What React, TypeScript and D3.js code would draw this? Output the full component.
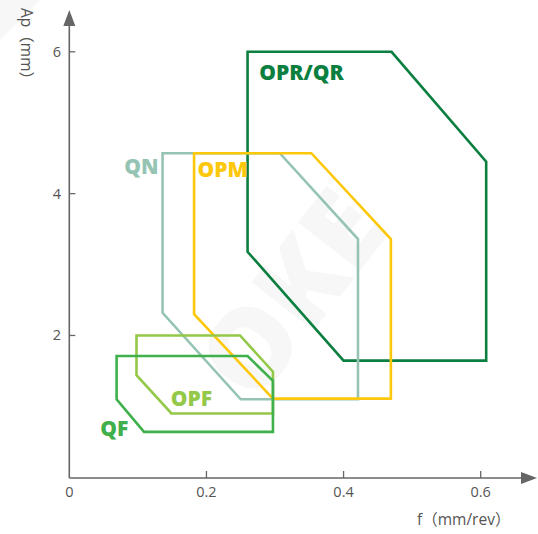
import React from "react";
import * as d3 from "d3";

const W = 538;
const H = 534;

const xTicks = [0, 0.2, 0.4, 0.6];
const xTickLabels = ["0", "0.2", "0.4", "0.6"];
const yTicks = [2, 4, 6];
const yTickLabels = ["2", "4", "6"];

const oprF = [0.26, 0.47, 0.608, 0.608, 0.40, 0.26];
const oprAp = [6.0, 6.0, 4.45, 1.645, 1.645, 3.18];
const qnF = [0.136, 0.307, 0.421, 0.421, 0.25, 0.136];
const qnAp = [4.57, 4.57, 3.36, 1.1, 1.1, 2.32];
const opmF = [0.182, 0.353, 0.469, 0.469, 0.297, 0.182];
const opmAp = [4.57, 4.57, 3.36, 1.11, 1.11, 2.3];
const opfF = [0.098, 0.249, 0.297, 0.297, 0.149, 0.098];
const opfAp = [2.0, 2.0, 1.49, 0.9, 0.9, 1.44];
const qfF = [0.069, 0.26, 0.297, 0.297, 0.109, 0.069];
const qfAp = [1.71, 1.71, 1.36, 0.64, 0.64, 1.1];

const seriesNames = ["OPR/QR", "QN", "OPM", "OPF", "QF"];
const seriesF = [oprF, qnF, opmF, opfF, qfF];
const seriesAp = [oprAp, qnAp, opmAp, opfAp, qfAp];
const seriesColors = ["#0b7f3f", "#96c4b3", "#fdc80a", "#93c848", "#3fb04b"];
// label anchor positions in data units (left x, baseline ap)
const labelF = [0.277, 0.08, 0.187, 0.148, 0.045];
const labelAp = [5.6, 4.27, 4.24, 1.0, 0.58];

export default function App() {
  const x = d3.scaleLinear().domain([0, 0.6]).range([69.3, 480.7]);
  const y = d3.scaleLinear().domain([0, 6]).range([477.3, 51.8]);
  const axisY = 478;
  const axisX = 69.3;
  const line = d3
    .line<[number, number]>()
    .x((d) => x(d[0]))
    .y((d) => y(d[1]))
    .curve(d3.curveLinearClosed);
  const axisColor = "#666666";
  const font = "'Open Sans', 'Noto Sans CJK SC', sans-serif";

  return (
    <svg width={W} height={H} style={{ position: "absolute", left: 0, top: 0 }}>
      <rect width={W} height={H} fill="#ffffff" />
      {/* watermark */}
      <text
        x={300}
        y={300}
        transform="rotate(-52 300 300)"
        fontFamily={font}
        fontWeight={800}
        fontSize={110}
        fill="#f7f7f7"
        textAnchor="middle"
        dominantBaseline="middle"
      >
        OKE
      </text>
      <path d="M0,0 L40,0 L0,40 Z" fill="#f7f7f7" />

      {/* axes */}
      <line x1={axisX} x2={axisX} y1={axisY} y2={22} stroke={axisColor} strokeWidth={1.6} />
      <path d={`M${axisX},10 L${axisX - 6},26 L${axisX + 6},26 Z`} fill={axisColor} />
      <line x1={axisX} x2={524} y1={axisY} y2={axisY} stroke={axisColor} strokeWidth={1.6} />
      <path d={`M537,${axisY} L521,${axisY - 6} L521,${axisY + 6} Z`} fill={axisColor} />

      {xTicks.map((t, i) => (
        <g key={"xt" + i}>
          {i > 0 && (
            <line x1={x(t)} x2={x(t)} y1={axisY} y2={axisY - 7} stroke={axisColor} strokeWidth={1.3} />
          )}
          <text
            x={x(t)}
            y={497}
            textAnchor="middle"
            fontFamily={font}
            fontSize={14.5}
            fill="#555555"
          >
            {xTickLabels[i]}
          </text>
        </g>
      ))}
      {yTicks.map((t, i) => (
        <g key={"yt" + i}>
          <line x1={axisX} x2={axisX + 6} y1={y(t)} y2={y(t)} stroke={axisColor} strokeWidth={1.3} />
          <text
            x={61}
            y={y(t) + 5}
            textAnchor="end"
            fontFamily={font}
            fontSize={14.5}
            fill="#555555"
          >
            {yTickLabels[i]}
          </text>
        </g>
      ))}
      <text x={417} y={525} fontFamily={font} fontSize={15.5} fill="#555555">
        f（mm/rev）
      </text>
      <text
        x={0}
        y={0}
        transform="translate(21,8) rotate(90)"
        fontFamily={font}
        fontSize={15.5}
        fill="#555555"
      >
        Ap（mm）
      </text>

      {/* polygons */}
      {seriesNames.map((name, i) => {
        const pts: [number, number][] = seriesF[i].map((f, j) => [f, seriesAp[i][j]]);
        return (
          <path
            key={name}
            d={line(pts) || ""}
            fill="none"
            stroke={seriesColors[i]}
            strokeWidth={2.6}
            strokeLinejoin="miter"
          />
        );
      })}
      {seriesNames.map((name, i) => (
        <text
          key={"l" + name}
          x={x(labelF[i])}
          y={y(labelAp[i])}
          fontFamily={font}
          fontWeight={800}
          fontSize={21}
          fill={seriesColors[i]}
        >
          {name}
        </text>
      ))}
    </svg>
  );
}
